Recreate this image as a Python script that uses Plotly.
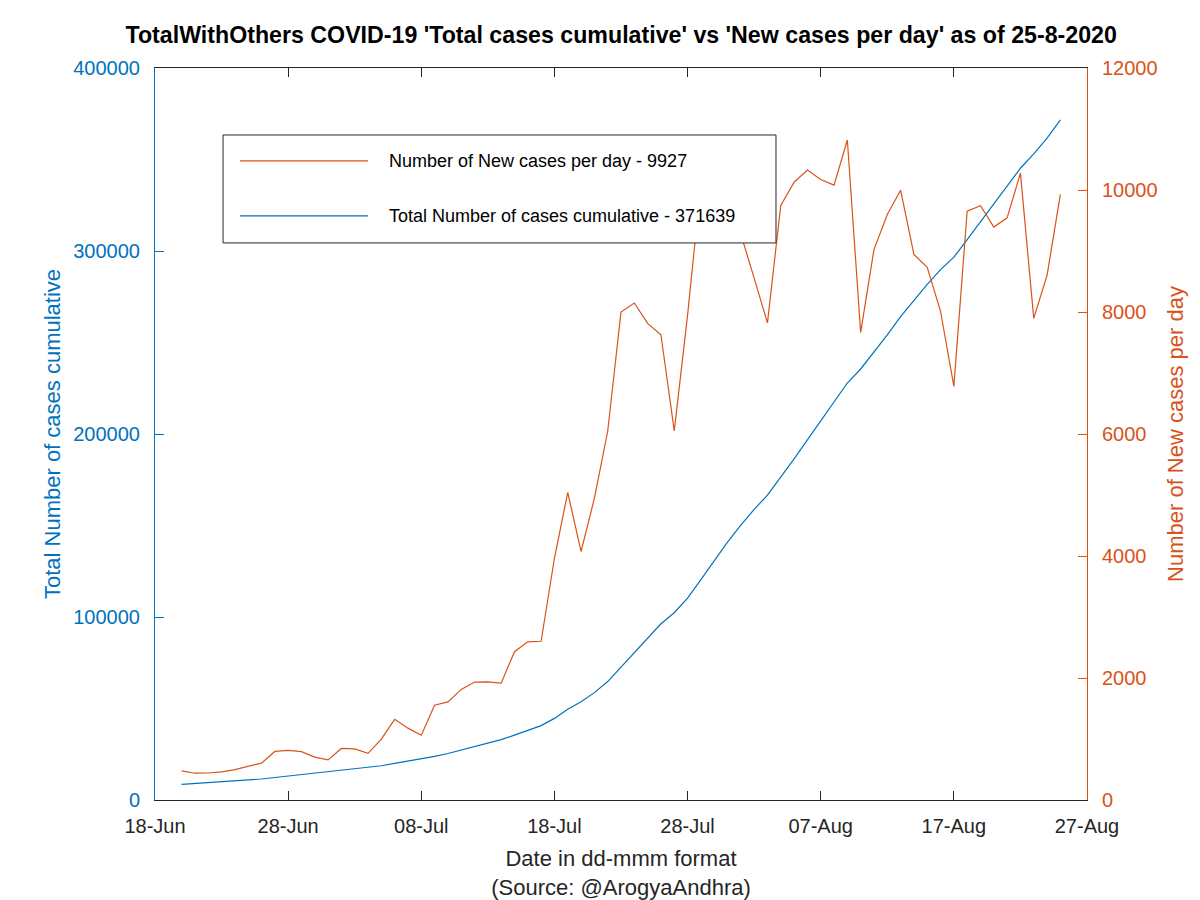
import plotly.graph_objects as go
import pandas as pd

dates = pd.date_range("2020-06-20", "2020-08-25", freq="D")

new_cases = [
    477, 439, 443, 462, 497, 553, 605, 796, 813, 793, 704,
    657, 845, 837, 765, 998, 1322, 1178, 1062, 1555, 1608,
    1813, 1933, 1935, 1916, 2432, 2593, 2602, 3963, 5041, 4074,
    4944, 6045, 7998, 8147, 7813, 7627, 6051, 7948, 10093, 10167,
    10376, 9276, 8555, 7822, 9747, 10128, 10328, 10171, 10080, 10820,
    7665, 9024, 9597, 9996, 8943, 8732, 8012, 6780, 9652, 9742,
    9393, 9544, 10276, 7895, 8601, 9927,
]

total_cases = [
    8490, 8929, 9372, 9834, 10331, 10884, 11489, 12285, 13098, 13891, 14595,
    15252, 16097, 16934, 17699, 18697, 20019, 21197, 22259, 23814, 25422,
    27235, 29168, 31103, 33019, 35451, 38044, 40646, 44609, 49650, 53724,
    58668, 64713, 72711, 80858, 88671, 96298, 102349, 110297, 120390, 130557,
    140933, 150209, 158764, 166586, 176333, 186461, 196789, 206960, 217040, 227860,
    235525, 244549, 254146, 264142, 273085, 281817, 289829, 296609, 306261, 316003,
    325396, 334940, 345216, 353111, 361712, 371639,
]

left_ticks = [0, 100000, 200000, 300000, 400000]
right_ticks = [0, 2000, 4000, 6000, 8000, 10000, 12000]

BLUE = "#0072BD"
ORANGE = "#D95319"
DARK = "#262626"
FONT = "Liberation Sans, Arial, sans-serif"

fig = go.Figure()
fig.add_trace(go.Scatter(x=dates, y=total_cases, mode="lines",
                         line=dict(color=BLUE, width=1.2),
                         name="Total Number of cases cumulative - 371639", yaxis="y"))
fig.add_trace(go.Scatter(x=dates, y=new_cases, mode="lines",
                         line=dict(color=ORANGE, width=1.2),
                         name="Number of New cases per day - 9927", yaxis="y2"))

# legend box drawn manually (opaque, above traces)
fig.add_shape(type="rect", xref="paper", yref="paper", x0=0.073, x1=0.6663, y0=0.761, y1=0.9085,
              line=dict(color=DARK, width=1), fillcolor="white", layer="above")
fig.add_shape(type="line", xref="paper", yref="paper", x0=0.0912, x1=0.2285, y0=0.873, y1=0.873,
              line=dict(color=ORANGE, width=1.2), layer="above")
fig.add_shape(type="line", xref="paper", yref="paper", x0=0.0912, x1=0.2285, y0=0.798, y1=0.798,
              line=dict(color=BLUE, width=1.2), layer="above")
fig.add_annotation(xref="paper", yref="paper", x=0.2485, y=0.873, xanchor="left", yanchor="middle",
                   text="Number of New cases per day - 9927", showarrow=False,
                   font=dict(family=FONT, size=18, color="black"))
fig.add_annotation(xref="paper", yref="paper", x=0.2485, y=0.798, xanchor="left", yanchor="middle",
                   text="Total Number of cases cumulative - 371639", showarrow=False,
                   font=dict(family=FONT, size=18, color="black"))

fig.update_layout(
    width=1200, height=900,
    margin=dict(l=147, r=121, t=60, b=108, autoexpand=False),
    paper_bgcolor="white", plot_bgcolor="white",
    showlegend=False,
    title=dict(text="<b>TotalWithOthers COVID-19 'Total cases cumulative' vs 'New cases per day' as of 25-8-2020</b>",
               x=0.511, xanchor="center", y=0.970, yanchor="middle",
               font=dict(family=FONT, size=23.2, color="black")),
    xaxis=dict(
        range=["2020-06-18", "2020-08-27"], automargin=False,
        tick0="2020-06-18", dtick=10 * 86400000, tickformat="%d-%b",
        showgrid=False, zeroline=False,
        showline=True, linecolor=DARK, linewidth=1, mirror="ticks",
        ticks="inside", ticklen=9, tickcolor=DARK, ticklabelstandoff=8,
        tickfont=dict(family=FONT, size=20, color=DARK),
        title=dict(text="Date in dd-mmm format<br>(Source: @ArogyaAndhra)",
                   font=dict(family=FONT, size=22, color=DARK), standoff=14),
    ),
    yaxis=dict(
        range=[0, 400000], tickvals=left_ticks, ticktext=[str(v) for v in left_ticks],
        automargin=False,
        showgrid=False, zeroline=False,
        showline=True, linecolor=BLUE, linewidth=1,
        ticks="inside", ticklen=9, tickcolor=BLUE, ticklabelstandoff=10,
        tickfont=dict(family=FONT, size=20, color=BLUE),
        title=dict(text="Total Number of cases cumulative",
                   font=dict(family=FONT, size=22, color=BLUE), standoff=6),
    ),
    yaxis2=dict(
        range=[0, 12000], tickvals=right_ticks, ticktext=[str(v) for v in right_ticks],
        overlaying="y", side="right", automargin=False,
        showgrid=False, zeroline=False,
        showline=True, linecolor=ORANGE, linewidth=1,
        ticks="inside", ticklen=9, tickcolor=ORANGE, ticklabelstandoff=10,
        tickfont=dict(family=FONT, size=20, color=ORANGE),
        title=dict(text="Number of New cases per day",
                   font=dict(family=FONT, size=22, color=ORANGE), standoff=10),
    ),
)

fig.write_html("out.html")
